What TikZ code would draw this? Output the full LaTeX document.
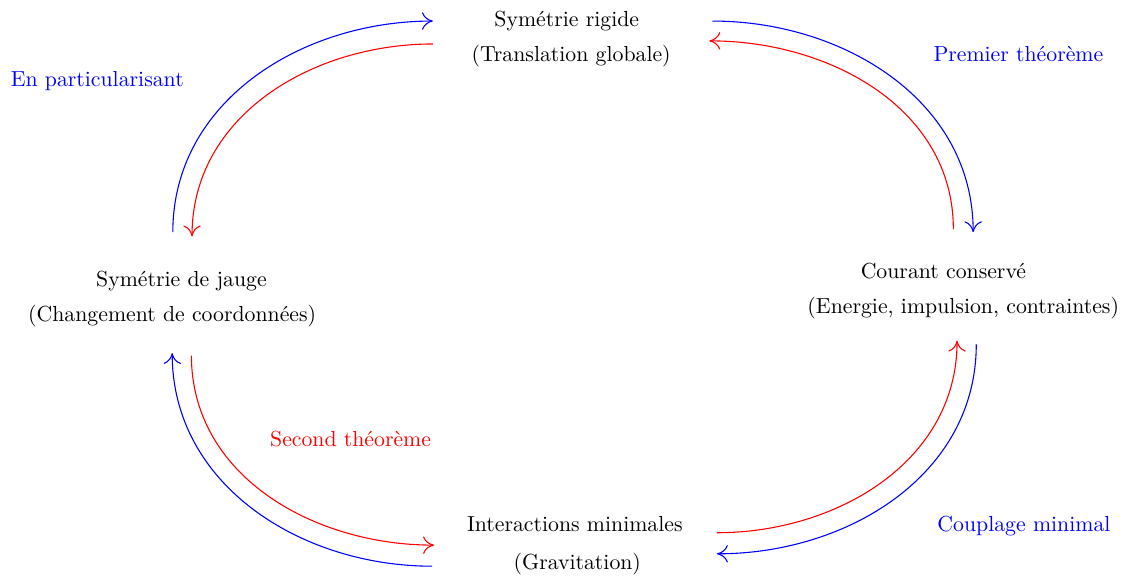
\documentclass[tikz,border=0pt]{standalone}
\usetikzlibrary{positioning,arrows.meta}

\begin{document}
\begin{tikzpicture}[node distance=0.57cm]
    \tikzset{
        etat/.style = {text=black},
        lbleu/.style = {text=blue},
        lrouge/.style = {text=red},
        fbleu/.style = {blue, line width=0.5pt, -{To[length=5pt, width=8pt]}},
        frouge/.style = {red, line width=0.5pt, -{To[length=5pt, width=8pt]}}
    }
    \useasboundingbox (-9.15,0.34) rectangle (9.14,-8.99);

    \node (rigide) [etat] {Symétrie rigide};
    \node (translation) [etat, below of=rigide, xshift=0.07cm] {(Translation globale)};

    \node (jauge) [etat, below of=rigide, xshift=-6.22cm, yshift=-3.62cm] {Symétrie de jauge};
    \node (changement) [etat, below of=jauge, xshift=-0.15cm] {(Changement de coordonnées)};

    \node (courant) [etat, below of=rigide, xshift=6.08cm, yshift=-3.46cm] {Courant conservé};
    \node (energie) [etat, below of=courant, xshift=0.32cm, yshift=-0.03cm] {(Energie, impulsion, contraintes)};

    \node (interactions) [etat, below of=rigide, xshift=0.13cm, yshift=-7.55cm] {Interactions minimales};
    \node (gravitation) [etat, below of=interactions, xshift=0.04cm, yshift=-0.08cm] {(Gravitation)};

    \node (particul) [lbleu, above of=jauge, xshift=-1.36cm, yshift=2.65cm] {En particularisant};
    \node (premier) [lbleu, right of=rigide, xshift=6.72cm, yshift=-0.53cm] {Premier théorème};
    \node (second) [lrouge, above of=interactions, xshift=-3.62cm, yshift=0.80cm] {Second théorème};
    \node (couplage) [lbleu, right of=interactions, xshift=6.68cm, yshift=-0.04cm] {Couplage minimal};

    \draw [fbleu] ([xshift=-0.14cm, yshift=0.50cm]jauge.north) to[out=90, in=180] ([xshift=-0.87cm]rigide.west);
    \draw [frouge] ([xshift=-0.87cm, yshift=-0.37cm]rigide.west) to[out=180, in=90] ([xshift=0.17cm, yshift=0.43cm]jauge.north);

    \draw [fbleu] ([xshift=1.06cm]rigide.east) to[out=0, in=90] ([xshift=0.48cm, yshift=0.37cm]courant.north);
    \draw [frouge] ([xshift=0.16cm, yshift=0.42cm]courant.north) to[out=90, in=0] ([xshift=1.01cm, yshift=-0.32cm]rigide.east);

    \draw [fbleu] ([xshift=-0.44cm, yshift=-0.68cm]interactions.west) to[out=180, in=-90] ([yshift=-0.30cm]changement.south);
    \draw [frouge] ([xshift=0.31cm, yshift=-0.34cm]changement.south) to[out=-90, in=180] ([xshift=-0.41cm, yshift=-0.34cm]interactions.west);

    \draw [frouge] ([xshift=0.43cm, yshift=-0.14cm]interactions.east) to[out=0, in=-90] ([xshift=-0.10cm, yshift=-0.23cm]energie.south);
    \draw [fbleu] ([xshift=0.21cm, yshift=-0.29cm]energie.south) to[out=-90, in=0] ([xshift=0.43cm, yshift=-0.48cm]interactions.east);
\end{tikzpicture}
\end{document}
